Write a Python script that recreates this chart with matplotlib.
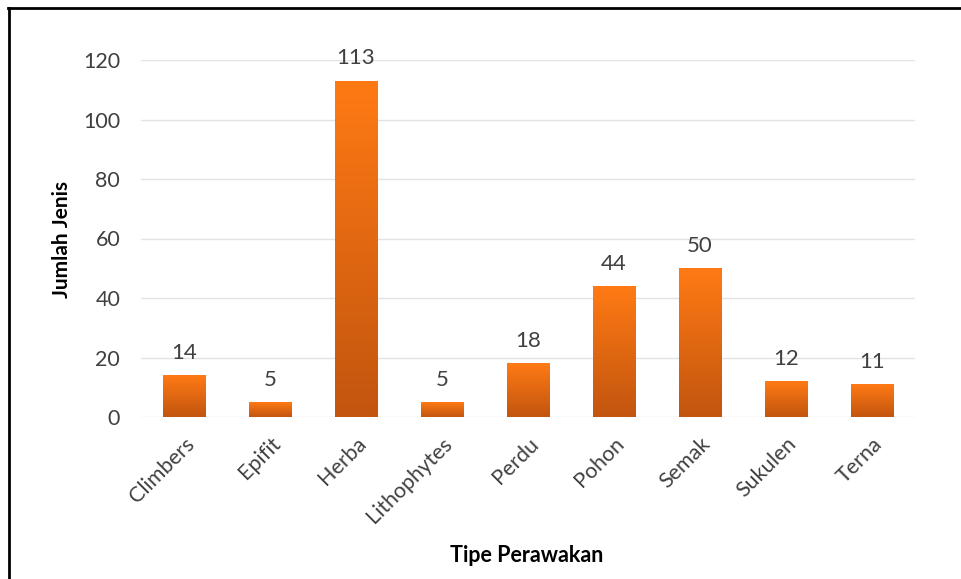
import matplotlib
matplotlib.use("Agg")
import matplotlib.pyplot as plt
import numpy as np
from matplotlib.colors import LinearSegmentedColormap

categories = ["Climbers", "Epifit", "Herba", "Lithophytes", "Perdu", "Pohon", "Semak", "Sukulen", "Terna"]
values = [14, 5, 113, 5, 18, 44, 50, 12, 11]
yticks = [0, 20, 40, 60, 80, 100, 120]

plt.rcParams['font.family'] = ['Lato', 'DejaVu Sans']

fig = plt.figure(figsize=(9.61, 5.79), dpi=100)
ax = fig.add_axes([141/961, 1-417/579, (915-141)/961, 357/579])

x = np.arange(len(categories))
bars = ax.bar(x, values, width=0.5, color='#E46C0A', zorder=2)

cmap = LinearSegmentedColormap.from_list('g', ['#C2550F', '#FF7A14'])
grad = np.linspace(0, 1, 256).reshape(-1, 1)
for b in bars:
    bx, by = b.get_x(), b.get_y()
    w, h = b.get_width(), b.get_height()
    im = ax.imshow(grad, cmap=cmap, origin='lower', aspect='auto',
                   extent=[bx, bx + w, by, by + h], zorder=3)
    im.set_clip_path(b)

for xi, v in zip(x, values):
    ax.annotate(str(v), (xi, v), xytext=(0, 9), textcoords='offset points',
                ha='center', va='bottom', fontsize=16, color='#404040')

ax.set_xlim(-0.5, len(categories) - 0.5)
ax.set_ylim(0, 120)
ax.set_yticks(yticks)
ax.set_xticks(x)
ax.set_xticklabels(categories, rotation=45, ha='right', rotation_mode='anchor',
                   fontsize=15.5, color='#404040')
ax.tick_params(axis='y', labelsize=15.5, labelcolor='#404040', length=0, pad=15)
ax.tick_params(axis='x', length=0, pad=12)
ax.grid(axis='y', color='#E3E3E3', linewidth=1, zorder=0)
ax.set_axisbelow(True)
for s in ax.spines.values():
    s.set_visible(False)

fig.text(62/961, 1-240/579, 'Jumlah Jenis', ha='center', va='center', rotation=90,
         fontsize=15, fontweight='bold', color='black')
fig.text(527/961, 1-556/579, 'Tipe Perawakan', ha='center', va='center',
         fontsize=15.5, fontweight='bold', color='black')

# outer frame (left and top only, as in reference)
fig.add_artist(plt.Line2D([9/961, 9/961], [0, 1-8/579], transform=fig.transFigure,
                          color='black', linewidth=2))
fig.add_artist(plt.Line2D([8/961, 1], [1-8/579, 1-8/579], transform=fig.transFigure,
                          color='black', linewidth=2))

fig.savefig('out.png', dpi=100)
